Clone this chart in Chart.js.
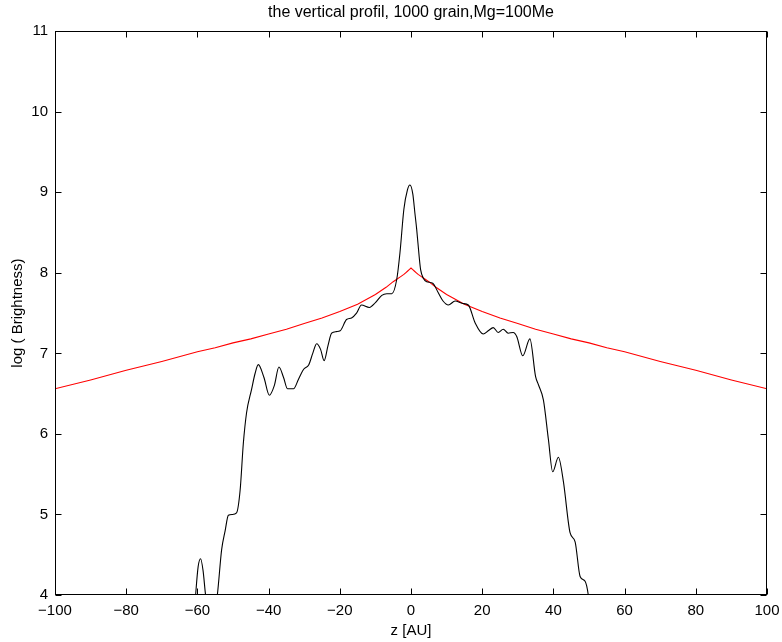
<!DOCTYPE html>
<html>
<head>
<meta charset="utf-8">
<script src="https://cdn.jsdelivr.net/npm/chart.js@4.4.0/dist/chart.umd.min.js"></script>
<style>
  html, body { margin: 0; padding: 0; background: #fff; }
  #wrap { width: 782px; height: 642px; }
</style>
</head>
<body>
<div id="wrap"><canvas id="profile"></canvas></div>
<script>
// black curve: simulated profile
const zBlack = [-61, -60.5, -59.8, -59.1, -58.4, -57.7, -56, -54.4, -53.2, -52.2, -51.3, -50.2, -49.0, -48.0,
  -47.1, -46.2, -44.8, -43.8, -42.9, -41.3, -39.8, -38.4, -37.1, -35.8, -34.7, -33.0, -31.6, -30.2, -28.7,
  -27.6, -26.5, -25.4, -24.4, -23.3, -22.3, -21, -19.9, -18.1, -16.7, -15.3, -13.9, -11.7, -10, -8.2, -6.8,
  -5.4, -4.0, -3.1, -2.0, -1.0, -0.3, 0.5, 1.1, 1.6, 2.3, 2.7, 3.5, 4.4, 6.1, 7.7, 9, 10.5, 12.4, 14.5, 16.1,
  18.0, 20.3, 21.7, 23.1, 24.5, 25.9, 27.3, 28.7, 29.7, 31.4, 33.4, 35.0, 35.8, 37.2, 38.6, 39.8, 41.4, 42.8,
  44.7, 46.1, 47.5, 48.9, 49.8, 50.5];
const logBlack = [3.7, 4.0, 4.35, 4.45, 4.3, 4.0, 3.6, 4.0, 4.56, 4.8, 4.99, 5.0, 5.02, 5.30,
  5.88, 6.26, 6.55, 6.75, 6.86, 6.7, 6.48, 6.6, 6.83, 6.7, 6.56, 6.56, 6.68, 6.80, 6.86,
  7.0, 7.12, 7.05, 6.91, 7.1, 7.25, 7.27, 7.28, 7.42, 7.44, 7.5, 7.60, 7.57, 7.63, 7.72, 7.74,
  7.74, 7.92, 8.25, 8.79, 9.03, 9.09, 8.98, 8.74, 8.54, 8.2, 8.04, 7.93, 7.89, 7.87, 7.75, 7.65, 7.60, 7.65, 7.62, 7.60,
  7.38, 7.24, 7.28, 7.32, 7.26, 7.30, 7.25, 7.26, 7.21, 6.97, 7.18, 6.71, 6.61, 6.42, 5.93, 5.53, 5.71, 5.41,
  4.77, 4.66, 4.23, 4.17, 4.0, 3.7];

// red curve: model profile
const zRed = [-100, -90, -80, -70, -60, -55, -50, -45, -40, -35, -30, -25, -20, -15, -10, -7, -5, -4, -3, -2, -1.5, -1, -0.5,
  0, 0.5, 1, 1.5, 2, 3, 4, 5, 7, 10, 15, 20, 25, 30, 35, 40, 45, 50, 55, 60, 70, 80, 90, 100];
const logRed = [6.56, 6.67, 6.79, 6.90, 7.02, 7.07, 7.13, 7.18, 7.24, 7.30, 7.37, 7.44, 7.52, 7.61, 7.73, 7.82, 7.89, 7.92, 7.95, 7.98, 8.00, 8.02, 8.04,
  8.06, 8.04, 8.02, 8.00, 7.98, 7.95, 7.92, 7.89, 7.82, 7.73, 7.61, 7.52, 7.44, 7.37, 7.30, 7.24, 7.18, 7.13, 7.07, 7.02, 6.90, 6.79, 6.67, 6.56];

const xTicks = [-100, -80, -60, -40, -20, 0, 20, 40, 60, 80, 100];
const yTicks = [4, 5, 6, 7, 8, 9, 10, 11];

const font = 'Liberation Sans, Arial, Helvetica, sans-serif';

// matlab style box with inward ticks
const boxPlugin = {
  id: 'box',
  afterDraw(chart) {
    const ctx = chart.ctx;
    const a = chart.chartArea;
    const sx = chart.scales.x, sy = chart.scales.y;
    const L = Math.round(a.left) + 0.5, R = Math.round(a.right) - 0.5;
    const T = Math.round(a.top) + 0.5, B = Math.round(a.bottom) - 0.5;
    const seg = (x1, y1, x2, y2) => {
      ctx.beginPath();
      ctx.moveTo(x1, y1);
      ctx.lineTo(x2, y2);
      ctx.stroke();
    };
    ctx.save();
    ctx.strokeStyle = '#000000';
    ctx.lineWidth = 1;
    for (const v of xTicks) {
      const px = Math.round(sx.getPixelForValue(v)) + 0.5;
      seg(px, B, px, B - 6);
      seg(px, T, px, T + 6);
    }
    for (const v of yTicks) {
      const py = Math.round(sy.getPixelForValue(v)) + 0.5;
      seg(L, py, L + 6, py);
      seg(R, py, R - 6, py);
    }
    ctx.strokeRect(L, T, R - L, B - T);
    ctx.restore();
  }
};

const toPoints = (xs, ys) => xs.map((x, i) => ({ x: x, y: ys[i] }));

new Chart(document.getElementById('profile').getContext('2d'), {
  type: 'line',
  data: {
    datasets: [{
      label: 'profile',
      data: toPoints(zBlack, logBlack),
      borderColor: '#000000',
      borderWidth: 1.1,
      pointRadius: 0,
      cubicInterpolationMode: 'monotone',
      fill: false
    }, {
      label: 'model',
      data: toPoints(zRed, logRed),
      borderColor: '#ff0000',
      borderWidth: 1.1,
      pointRadius: 0,
      tension: 0,
      fill: false
    }]
  },
  options: {
    responsive: true,
    maintainAspectRatio: false,
    animation: false,
    layout: { padding: { left: 0, right: 15, top: 0, bottom: 0 } },
    plugins: {
      legend: { display: false },
      tooltip: { enabled: false },
      title: {
        display: true,
        fullSize: false,
        text: 'the vertical profil, 1000 grain,Mg=100Me',
        color: '#000',
        font: { family: font, size: 16, weight: 'normal' },
        padding: { top: 3, bottom: 9 }
      }
    },
    scales: {
      x: {
        type: 'linear',
        min: -100, max: 100,
        afterBuildTicks: s => { s.ticks = xTicks.map(v => ({ value: v })); },
        afterFit: s => { s.height = 47; s.paddingLeft = 0; s.paddingRight = 0; },
        grid: { display: false, drawTicks: false },
        border: { display: false },
        ticks: {
          color: '#000',
          font: { family: font, size: 15 },
          padding: 7,
          maxRotation: 0,
          callback: v => String(v).replace('-', '\u2212')
        },
        title: {
          display: true, text: 'z [AU]', color: '#000',
          font: { family: font, size: 15 }, padding: { top: 0, bottom: 2 }
        }
      },
      y: {
        type: 'linear',
        min: 4, max: 11,
        afterBuildTicks: s => { s.ticks = yTicks.map(v => ({ value: v })); },
        afterFit: s => { s.width = 55; s.paddingTop = 0; s.paddingBottom = 0; },
        grid: { display: false, drawTicks: false },
        border: { display: false },
        ticks: {
          color: '#000',
          font: { family: font, size: 15 },
          padding: 7
        },
        title: {
          display: true, text: 'log ( Brightness)', color: '#000',
          font: { family: font, size: 15 }, padding: { top: 9, bottom: 0 }
        }
      }
    }
  },
  plugins: [boxPlugin]
});
</script>
</body>
</html>
